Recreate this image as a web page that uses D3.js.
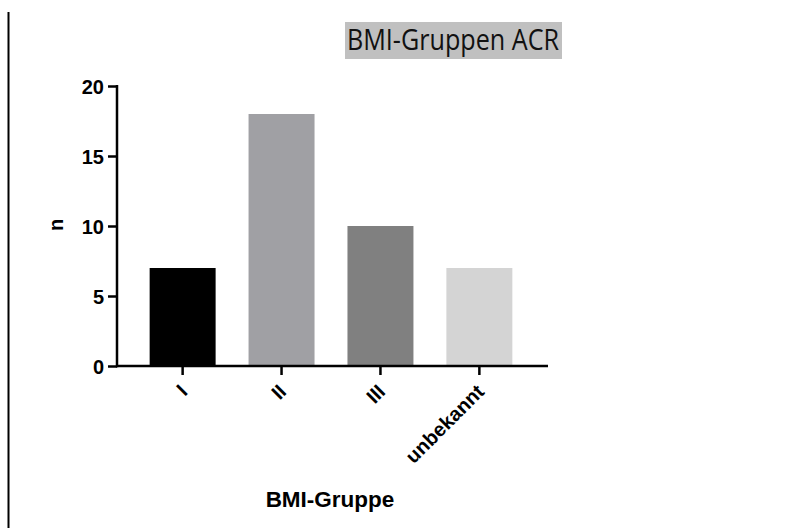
<!DOCTYPE html>
<html><head><meta charset="utf-8">
<script src="https://cdn.jsdelivr.net/npm/d3@7"></script>
<style>body{margin:0;background:#fff}svg{display:block}</style>
</head><body>
<svg id="c" width="791" height="528"></svg>
<script>
const categories = ["I", "II", "III", "unbekannt"];
const values = [7, 18, 10, 7];
const barColors = ["#000000", "#a0a0a4", "#808080", "#d4d4d4"];
const yTicks = [0, 5, 10, 15, 20];
const title = "BMI-Gruppen ACR";
const xTitle = "BMI-Gruppe";
const yTitle = "n";

const svg = d3.select("#c");
const font = "'Liberation Sans', Arial, sans-serif";

// left border line
svg.append("line").attr("x1", 8.5).attr("x2", 8.5).attr("y1", 12).attr("y2", 528)
  .attr("stroke", "#000").attr("stroke-width", 2);

const x = d3.scaleBand().domain(categories).range([117, 545]).paddingInner(0.333).paddingOuter(0.33);
const y = d3.scaleLinear().domain([0, 20]).range([366, 86]);

// bars
svg.selectAll("rect.bar").data(categories).join("rect").attr("class", "bar")
  .attr("x", d => x(d)).attr("width", x.bandwidth())
  .attr("y", (d, i) => y(values[i])).attr("height", (d, i) => y(0) - y(values[i]))
  .attr("fill", (d, i) => barColors[i]);

// y axis
const yAxis = svg.append("g").attr("transform", "translate(117,0)")
  .call(d3.axisLeft(y).tickValues(yTicks).tickSize(9).tickPadding(4).tickSizeOuter(0));
yAxis.select(".domain").attr("stroke-width", 2.5).attr("d", "M0," + (y(20) - 1) + "V" + (y(0) + 1.2));
yAxis.selectAll(".tick line").attr("stroke-width", 2.5);
yAxis.selectAll(".tick text").attr("font-family", font).attr("font-weight", "bold")
  .attr("font-size", 20).attr("fill", "#000").attr("dy", "0.36em");

// x axis
const xAxis = svg.append("g").attr("transform", "translate(0,366)")
  .call(d3.axisBottom(x).tickSize(9).tickSizeOuter(0));
xAxis.select(".domain").attr("stroke-width", 2.5).attr("d", "M116,0H548");
xAxis.selectAll(".tick line").attr("stroke-width", 2.5);
xAxis.selectAll(".tick text")
  .attr("font-family", font).attr("font-weight", "bold").attr("font-size", 20).attr("fill", "#000")
  .attr("y", 0).attr("dy", 0)
  .attr("text-anchor", "end")
  .attr("transform", "translate(6,27) rotate(-45)");

// axis titles
svg.append("text").attr("x", 330).attr("y", 507).attr("text-anchor", "middle")
  .attr("font-family", font).attr("font-weight", "bold").attr("font-size", 22.5).text(xTitle);
svg.append("text").attr("transform", "translate(63,225) rotate(-90)").attr("text-anchor", "middle")
  .attr("font-family", font).attr("font-weight", "bold").attr("font-size", 20).text(yTitle);

// title with gray box
svg.append("rect").attr("x", 345).attr("y", 22).attr("width", 217).attr("height", 37).attr("fill", "#c0c0c0");
svg.append("text").attr("x", 347).attr("y", 50)
  .attr("font-family", "'Open Sans', Lato, sans-serif").attr("font-size", 29).attr("fill", "#111")
  .attr("textLength", 212).attr("lengthAdjust", "spacingAndGlyphs").text(title);
</script>
</body></html>
